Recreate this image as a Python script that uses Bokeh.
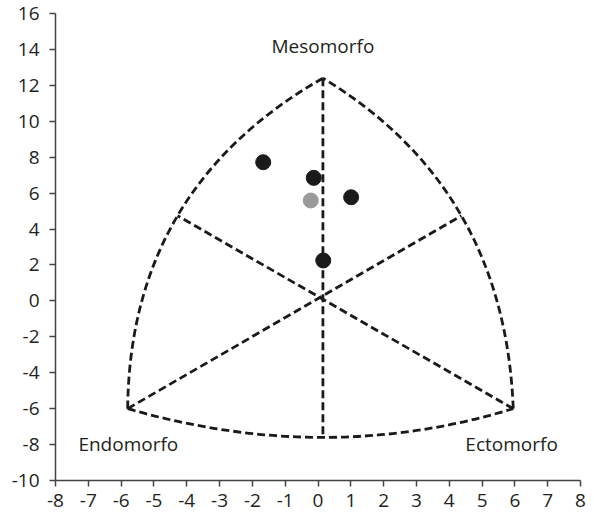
from bokeh.plotting import figure
from bokeh.models import Range1d, FixedTicker, Label
from bokeh.embed import file_html
from bokeh.resources import INLINE

# Somatochart frame: corners (Mesomorfo top, Endomorfo, Ectomorfo)
corner_x = [0.15, -5.8, 5.95]
corner_y = [12.4, -6.0, -6.0]
# Arc mid-points (left arc, right arc, bottom arc)
arc_mid_x = [-4.28, 4.37, 0.15]
arc_mid_y = [4.74, 4.74, -7.6]

# Individual somatopoints (black) and mean (grey)
subj_x = [-1.67, -0.13, 1.01, 0.16]
subj_y = [7.72, 6.85, 5.77, 2.25]
mean_x = [-0.22]
mean_y = [5.59]

labels = ["Mesomorfo", "Endomorfo", "Ectomorfo"]
label_x = [0.15, -5.78, 5.9]
label_y = [14.2, -7.95, -7.95]

x_ticks = list(range(-8, 9))
y_ticks = list(range(-10, 17, 2))

FONT = "Open Sans"

p = figure(width=594, height=514, output_backend="svg", toolbar_location=None,
           x_range=Range1d(-8, 8), y_range=Range1d(-10, 16),
           min_border_left=55, min_border_right=14, min_border_top=13, min_border_bottom=34)
p.outline_line_color = None
p.grid.visible = False
p.background_fill_color = "white"

for ax in (p.xaxis[0], p.yaxis[0]):
    ax.axis_line_color = "#444444"
    ax.axis_line_width = 1.5
    ax.major_tick_line_color = "#444444"
    ax.major_tick_line_width = 1.5
    ax.major_tick_in = 0
    ax.major_tick_out = 6
    ax.minor_tick_line_color = None
    ax.major_label_text_font = FONT
    ax.major_label_text_font_size = "19px"
    ax.major_label_text_color = "#231f20"

p.xaxis[0].ticker = FixedTicker(ticks=x_ticks)
p.yaxis[0].ticker = FixedTicker(ticks=y_ticks)
p.xaxis[0].major_label_overrides = {t: str(t) for t in x_ticks}
p.yaxis[0].major_label_overrides = {t: str(t) for t in y_ticks}
p.xaxis[0].major_label_standoff = 7
p.yaxis[0].major_label_standoff = 10

dash = "8 4"
lw = 2.8
# arcs as quadratic curves (start, end, midpoint at t=0.5)
arc_ends = [(1, 0), (2, 0), (1, 2)]
x0, y0, x1, y1, cx, cy = [], [], [], [], [], []
for k, (a, b) in enumerate(arc_ends):
    x0.append(corner_x[a]); y0.append(corner_y[a])
    x1.append(corner_x[b]); y1.append(corner_y[b])
    cx.append(2 * arc_mid_x[k] - (corner_x[a] + corner_x[b]) / 2)
    cy.append(2 * arc_mid_y[k] - (corner_y[a] + corner_y[b]) / 2)
p.quadratic(x0=x0, y0=y0, x1=x1, y1=y1, cx=cx, cy=cy,
            line_color="#1a1a1a", line_width=lw, line_dash=dash)

# lines from each corner to the opposite arc midpoint
opp = [2, 1, 0]
p.segment(x0=corner_x, y0=corner_y,
          x1=[arc_mid_x[o] for o in opp], y1=[arc_mid_y[o] for o in opp],
          line_color="#1a1a1a", line_width=lw, line_dash=dash)

p.scatter(subj_x, subj_y, size=15, fill_color="#1a1a1a", line_color="#1a1a1a")
p.scatter(mean_x, mean_y, size=15, fill_color="#9a9a9a", line_color="#9a9a9a")

for t, lx, ly in zip(labels, label_x, label_y):
    p.add_layout(Label(x=lx, y=ly, text=t, text_font=FONT, text_font_size="19px",
                       text_color="#231f20", text_align="center", text_baseline="middle"))

open("out.html", "w").write(file_html(p, INLINE))
